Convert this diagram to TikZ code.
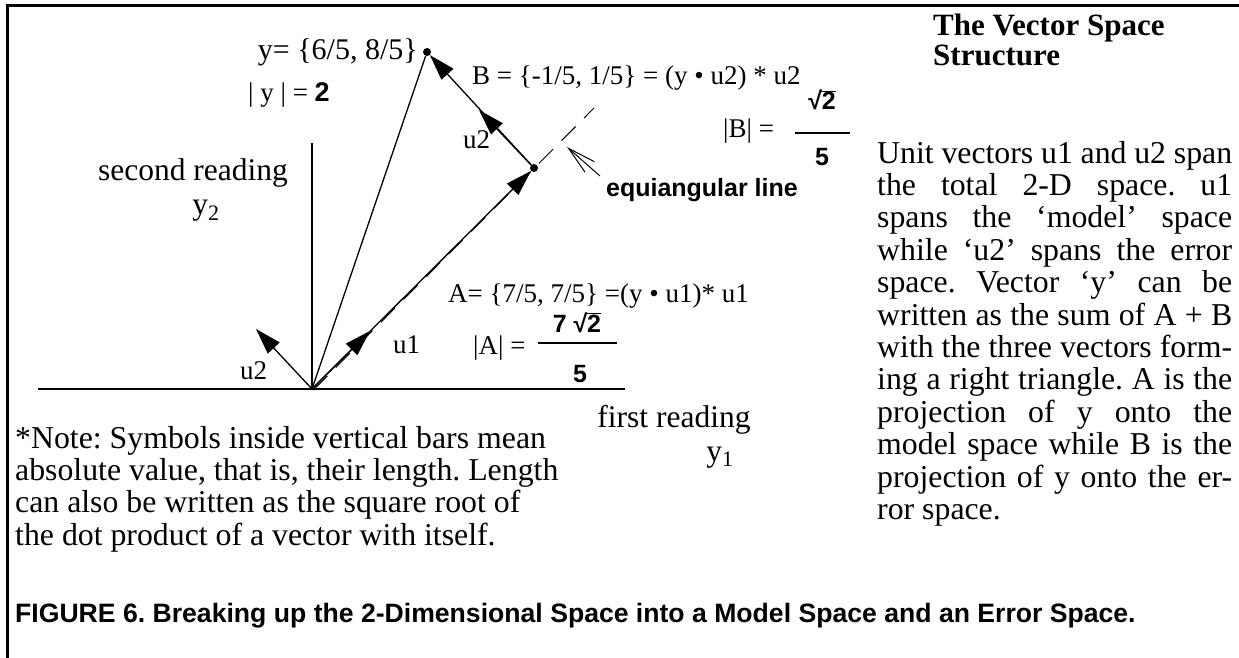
\documentclass[tikz,border=0pt]{standalone}
\usepackage{fontspec}
\setmainfont{Liberation Serif}
\newfontfamily\arial{Liberation Sans}
\usetikzlibrary{arrows.meta,calc}
\frenchspacing
\newcommand{\sqtwo}{√\kern-1.2pt$\overline{\hbox{\arial\bfseries\kern1pt 2}}$}
\begin{document}
\frenchspacing
\begin{tikzpicture}[x=1pt,y=-1pt,
  lbl/.style={inner sep=0pt, anchor=base west, font=\fontsize{27}{30}\selectfont},
  biglbl/.style={inner sep=0pt, anchor=base, font=\fontsize{31.5}{33}\selectfont},
  sanslbl/.style={inner sep=0pt, anchor=base, font=\arial\bfseries\fontsize{25}{28}\selectfont},
  axisline/.style={line width=2.4pt},
  vecline/.style={line width=1.3pt},
  tiphead/.style={-{Triangle[length=26pt,width=16pt]}},
  dotmark/.style={circle, fill, inner sep=0pt, minimum size=8pt},
  bodytext/.style={inner sep=0pt, anchor=base west, font=\fontsize{31.8}{32.4}\selectfont\frenchspacing, align=left},
  fracbar/.style={line width=1.6pt},
]
\useasboundingbox (0,0) rectangle (1239,658);
% frame
\coordinate (f1) at (7,658); \coordinate (f2) at (7,6); \coordinate (f3) at (1239,6);
\draw[line width=3pt] (f1) -- (f2) -- (f3);
% geometry
\coordinate (O) at (312,389);
\coordinate (xl) at (38,389);
\coordinate (xr) at (625,389);
\coordinate (yt) at (312,143);
\node[dotmark] (Y) at (427,52) {};
\node[dotmark] (A) at (534,168) {};
\coordinate (u1) at (370,331);
\coordinate (u2) at (256,329);
\coordinate (u2b) at (479,110);
\coordinate (E) at (594,108);
\coordinate (Os) at (313.2,390.2);
\coordinate (eqs) at (600,176);
\coordinate (eqt) at (567,147);
% axes
\draw[axisline] (xl) -- (xr);
\draw[axisline] (O) -- (yt);
% vectors
\draw[vecline] (O) -- (Y);
\draw[line width=1pt, dash pattern=on 20pt off 12pt] (Os) -- (E);
\draw[vecline, tiphead] (O) -- (A);
\draw[vecline, tiphead] (O) -- (u1);
\draw[vecline, tiphead] (O) -- (u2);
\draw[vecline, tiphead] (A) -- (Y);
\draw[vecline, tiphead] (A) -- (u2b);
\draw[line width=1pt, -{Straight Barb[length=28pt,width=14pt]}] (eqs) -- (eqt);
% labels
\node[inner sep=0pt, anchor=base east, font=\fontsize{30}{32}\selectfont] (ylab) at (418,60) {y= \{6/5, 8/5\}};
\node[lbl] (ynorm) at (248,102) {| y | = {\arial\bfseries 2}};
\node[lbl] (Blab) at (472,85) {B = \{-1/5, 1/5\} = (y • u2) * u2};
\node[lbl] (Bn) at (723,138) {|B| =};
\node[sanslbl] (Bnum) at (822,110) {\sqtwo};
\coordinate (Bb1) at (795,133); \coordinate (Bb2) at (850,133);
\draw[fracbar] (Bb1) -- (Bb2);
\node[sanslbl] (Bden) at (822,165) {5};
\node[sanslbl, anchor=base east] (eq) at (798,196) {equiangular line};
\node[biglbl] (sr) at (193,180) {second reading};
\node[biglbl] (y2) at (206,214) {y\textsubscript{2}};
\node[lbl] (u2lab) at (463,149) {u2};
\node[lbl] (u1lab) at (393,353) {u1};
\node[lbl] (u2lab0) at (240,379) {u2};
\node[lbl] (Alab) at (448,302) {A= \{7/5, 7/5\} =(y • u1)* u1};
\node[lbl] (An) at (473,354) {|A| =};
\node[sanslbl] (Anum) at (577,332) {7 \sqtwo};
\coordinate (Ab1) at (538,343); \coordinate (Ab2) at (617,343);
\draw[fracbar] (Ab1) -- (Ab2);
\node[sanslbl] (Aden) at (580,382) {5};
\node[biglbl] (fr) at (674,427) {first reading};
\node[biglbl] (y1) at (720,461) {y\textsubscript{1}};
% right column
\node[inner sep=0pt, anchor=base west, font=\bfseries\fontsize{31}{30.5}\selectfont, align=left] (title) at (933,66) {The Vector Space\\Structure};
\node[bodytext] (body) at (877,519.4) {%
\makebox[355pt][s]{Unit vectors u1 and u2 span}\\
\makebox[355pt][s]{the total 2-D space. u1}\\
\makebox[355pt][s]{spans the ‘model’ space}\\
\makebox[355pt][s]{while ‘u2’ spans the error}\\
\makebox[355pt][s]{space. Vector ‘y’ can be}\\
\makebox[355pt][s]{written as the sum of A + B}\\
\makebox[355pt][s]{with the three vectors form-}\\
\makebox[355pt][s]{ing a right triangle. A is the}\\
\makebox[355pt][s]{projection of y onto the}\\
\makebox[355pt][s]{model space while B is the}\\
\makebox[355pt][s]{projection of y onto the er-}\\
ror space.};
% note
\node[bodytext] (note) at (15,545.2) {*Note: Symbols inside vertical bars mean\\
absolute value, that is, their length. Length\\
can also be written as the square root of\\
the dot product of a vector with itself.};
% caption
\node[inner sep=0pt, anchor=base west, font=\arial\bfseries\fontsize{26.6}{29}\selectfont] (cap) at (15,622) {FIGURE 6. Breaking up the 2-Dimensional Space into a Model Space and an Error Space.};
\end{tikzpicture}
\end{document}
